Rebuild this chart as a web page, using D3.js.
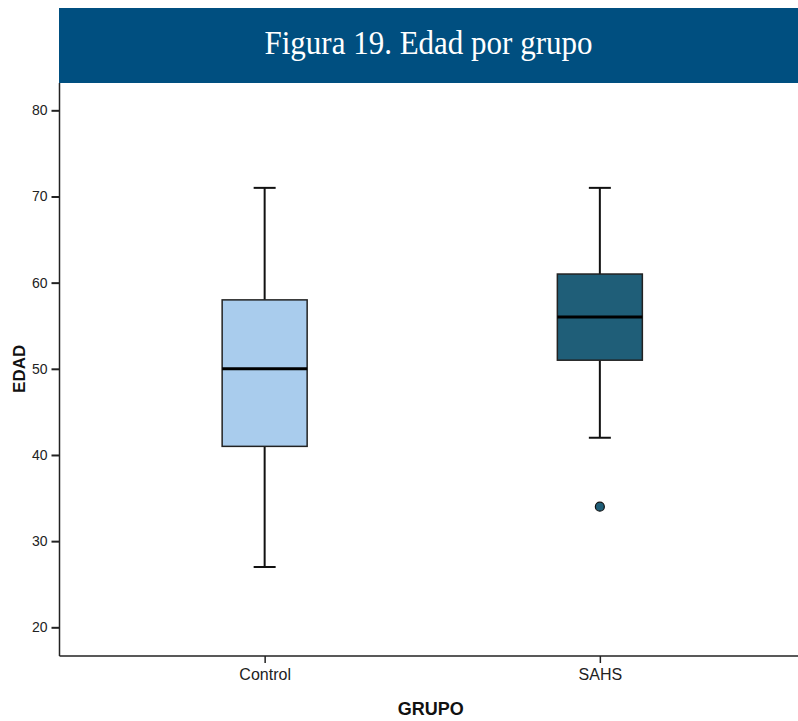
<!DOCTYPE html>
<html>
<head>
<meta charset="utf-8">
<script src="https://cdn.jsdelivr.net/npm/d3@7"></script>
<style>
  html, body { margin: 0; padding: 0; background: #fff; }
  svg { display: block; }
</style>
</head>
<body>
<svg id="chart" width="798" height="721"></svg>
<script>
// Age distribution by group (box plot summaries)
const groups = ["Control", "SAHS"];
const whiskerLow = [27, 42];
const q1 = [41, 51];
const median = [50, 56];
const q3 = [58, 61];
const whiskerHigh = [71, 71];
const outliers = [[], [34]];
const yTicks = [20, 30, 40, 50, 60, 70, 80];
const fills = ["#a9cced", "#1f5e78"];

(function draw() {
  const svg = d3.select("#chart");
  const W = 798;
  const plotLeft = 59.5, plotTop = 83, plotBottom = 656;

  // Title banner
  svg.append("rect")
    .attr("x", 59).attr("y", 8)
    .attr("width", W - 59).attr("height", 75)
    .attr("fill", "#004f80");
  svg.append("text")
    .attr("transform", `translate(${(59 + W) / 2},54) scale(1,1.12)`)
    .attr("text-anchor", "middle")
    .attr("font-family", "'Liberation Serif', 'Times New Roman', serif")
    .attr("font-size", 31)
    .attr("fill", "#fff")
    .text("Figura 19. Edad por grupo");

  const x = d3.scalePoint().domain(groups).range([plotLeft, 805]).padding(0.612);
  const y = d3.scaleLinear().domain([16.67, 83.17]).range([plotBottom, plotTop]);

  // Axes
  const yAxis = svg.append("g")
    .attr("transform", `translate(${plotLeft},0)`)
    .call(d3.axisLeft(y).tickValues(yTicks).tickSize(8).tickPadding(4).tickFormat(d3.format("d")));
  yAxis.select(".domain").attr("d", `M0,${plotTop}V${plotBottom}`).attr("stroke", "#222").attr("stroke-width", 1.5);
  yAxis.selectAll(".tick line").attr("stroke", "#222").attr("stroke-width", 2);
  yAxis.selectAll(".tick text")
    .attr("font-family", "Arial, 'Liberation Sans', sans-serif")
    .attr("font-size", 14).attr("fill", "#222");

  const xAxis = svg.append("g")
    .attr("transform", `translate(0,${plotBottom})`)
    .call(d3.axisBottom(x).tickSize(7).tickPadding(6));
  xAxis.select(".domain").attr("d", `M${plotLeft},0H${W}`).attr("stroke", "#222").attr("stroke-width", 1.5);
  xAxis.selectAll(".tick line").attr("stroke", "#222").attr("stroke-width", 1.5);
  xAxis.selectAll(".tick text")
    .attr("font-family", "Arial, 'Liberation Sans', sans-serif")
    .attr("font-size", 16).attr("fill", "#222");

  // Axis titles
  svg.append("text")
    .attr("x", (plotLeft + W) / 2 + 2).attr("y", 715)
    .attr("text-anchor", "middle")
    .attr("font-family", "Arial, 'Liberation Sans', sans-serif")
    .attr("font-weight", "bold").attr("font-size", 18).attr("fill", "#111")
    .text("GRUPO");
  svg.append("text")
    .attr("transform", `translate(25,${y(50)}) rotate(-90)`)
    .attr("text-anchor", "middle")
    .attr("font-family", "Arial, 'Liberation Sans', sans-serif")
    .attr("font-weight", "bold").attr("font-size", 17).attr("fill", "#111")
    .text("EDAD");

  // Boxes
  const boxW = 85, capW = 22;
  const data = groups.map((g, i) => ({
    g, lo: whiskerLow[i], q1: q1[i], med: median[i], q3: q3[i], hi: whiskerHigh[i],
    out: outliers[i], fill: fills[i]
  }));

  const gBox = svg.append("g").selectAll("g").data(data).join("g")
    .attr("transform", d => `translate(${x(d.g)},0)`);

  gBox.append("line")
    .attr("x1", 0).attr("x2", 0)
    .attr("y1", d => y(d.hi)).attr("y2", d => y(d.q3))
    .attr("stroke", "#111").attr("stroke-width", 2);
  gBox.append("line")
    .attr("x1", 0).attr("x2", 0)
    .attr("y1", d => y(d.q1)).attr("y2", d => y(d.lo))
    .attr("stroke", "#111").attr("stroke-width", 2);
  gBox.append("line")
    .attr("x1", -capW / 2).attr("x2", capW / 2)
    .attr("y1", d => y(d.hi)).attr("y2", d => y(d.hi))
    .attr("stroke", "#111").attr("stroke-width", 2);
  gBox.append("line")
    .attr("x1", -capW / 2).attr("x2", capW / 2)
    .attr("y1", d => y(d.lo)).attr("y2", d => y(d.lo))
    .attr("stroke", "#111").attr("stroke-width", 2);
  gBox.append("rect")
    .attr("x", -boxW / 2).attr("width", boxW)
    .attr("y", d => y(d.q3)).attr("height", d => y(d.q1) - y(d.q3))
    .attr("fill", d => d.fill)
    .attr("stroke", "#222").attr("stroke-width", 1.5);
  gBox.append("line")
    .attr("x1", -boxW / 2).attr("x2", boxW / 2)
    .attr("y1", d => y(d.med)).attr("y2", d => y(d.med))
    .attr("stroke", "#000").attr("stroke-width", 3);
  gBox.selectAll("circle").data(d => d.out.map(v => ({ v, fill: d.fill }))).join("circle")
    .attr("cx", 0).attr("cy", d => y(d.v)).attr("r", 4.5)
    .attr("fill", d => d.fill).attr("stroke", "#111").attr("stroke-width", 1.2);
})();
</script>
</body>
</html>
